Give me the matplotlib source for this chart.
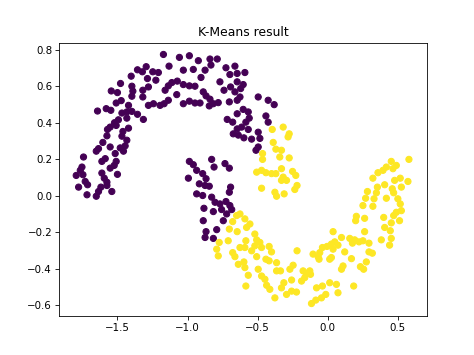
import numpy as np
import matplotlib
matplotlib.use('Agg')
import matplotlib.pyplot as plt

# cluster 0 (upper moon)
x0 = [-1.295, -1.357, -1.322, -1.402, -1.286, -1.478, -1.397, -1.390, -1.319, -1.279,
      -1.544, -1.500, -1.319, -1.397, -1.473, -1.509, -1.421, -1.580, -1.642, -1.547,
      -1.468, -1.433, -1.397, -1.357, -1.315, -1.493, -1.433, -1.521, -1.571, -1.552,
      -1.461, -1.421, -1.509, -1.279,
      -1.172, -1.058, -0.987, -0.923, -0.840, -0.788, -1.132, -0.833, -1.030, -0.959,
      -0.875, -0.726, -0.662, -1.248, -1.208, -0.698, -0.646, -0.904, -1.226, -1.112,
      -1.073, -1.137, -1.030, -0.987, -0.947, -1.160, -0.888, -0.769, -0.740, -0.693,
      -0.646, -0.662, -1.077, -0.868, -0.840, -0.816, -0.781, -1.137, -1.167, -1.243,
      -1.196, -1.030, -0.987, -0.947, -0.911, -0.702, -0.646, -0.845, -0.717, -0.678,
      -0.646, -0.646, -0.674,
      -0.591, -0.603, -0.621, -0.496, -0.425, -0.382, -0.626, -0.603, -0.567, -0.441,
      -0.425, -0.584, -0.560, -0.614, -0.567, -0.496,
      -1.575, -1.468, -1.433, -1.604, -1.445, -1.480, -1.552, -1.635, -1.651, -1.457,
      -1.587, -1.611, -1.516, -1.509, -1.742, -1.753, -1.765, -1.794, -1.746, -1.552,
      -1.523, -1.611, -1.500, -1.594, -1.730, -1.713, -1.575, -1.777, -1.618, -1.635,
      -1.540, -1.717, -1.651, -1.575,
      -0.987, -0.959, -0.828, -0.811, -0.733, -0.702, -0.935, -0.892, -0.994, -0.868,
      -0.916, -0.875, -0.845, -0.693, -0.935, -0.892, -0.702, -0.828, -0.804, -0.769,
      -0.726, -0.698, -0.883, -0.816, -0.757, -0.685, -0.721, -0.745, -0.888, -0.638,
      -0.598, -0.543, -0.484, -0.512, -0.496,
      -0.868, -0.792, -0.875, -0.816]
y0 = [0.706, 0.689, 0.678, 0.654, 0.641, 0.614, 0.599, 0.572, 0.577, 0.595,
      0.573, 0.564, 0.540, 0.544, 0.520, 0.507, 0.494, 0.476, 0.463, 0.467,
      0.452, 0.458, 0.461, 0.445, 0.417, 0.415, 0.424, 0.399, 0.362, 0.375,
      0.351, 0.369, 0.384, 0.494,
      0.773, 0.757, 0.766, 0.739, 0.748, 0.748, 0.709, 0.715, 0.687, 0.691,
      0.687, 0.700, 0.709, 0.678, 0.674, 0.663, 0.669, 0.647, 0.632, 0.619,
      0.627, 0.601, 0.608, 0.601, 0.599, 0.577, 0.568, 0.623, 0.577, 0.595,
      0.623, 0.568, 0.553, 0.546, 0.528, 0.503, 0.509, 0.522, 0.503, 0.503,
      0.494, 0.503, 0.517, 0.507, 0.507, 0.513, 0.522, 0.491, 0.417, 0.402,
      0.448, 0.365, 0.338,
      0.674, 0.608, 0.586, 0.540, 0.522, 0.498, 0.540, 0.472, 0.458, 0.436,
      0.402, 0.402, 0.424, 0.375, 0.362, 0.347,
      0.327, 0.325, 0.303, 0.291, 0.272, 0.261, 0.266, 0.257, 0.243, 0.243,
      0.202, 0.187, 0.230, 0.187, 0.211, 0.156, 0.138, 0.110, 0.114, 0.150,
      0.165, 0.123, 0.116, 0.095, 0.077, 0.059, 0.073, 0.046, 0.046, 0.022,
      0.022, 0.004, -0.004, 0.055,
      0.187, 0.169, 0.198, 0.156, 0.175, 0.150, 0.138, 0.120, 0.095, 0.092,
      0.064, 0.055, 0.051, 0.046, 0.009, 0.000, 0.018, -0.009, -0.037, -0.046,
      -0.033, -0.055, -0.070, -0.088, -0.077, -0.077, -0.101, -0.138, -0.138, 0.331,
      0.316, 0.309, 0.313, 0.248, 0.266,
      -0.198, -0.187, -0.230, -0.235]

# cluster 1 (lower moon)
x1 = [-0.396, -0.318, -0.275,
      -0.650, -0.678,
      -0.389, -0.283, -0.370, -0.330, -0.465, -0.465, -0.342, -0.275, -0.507, -0.472,
      -0.441, -0.401, -0.370, -0.330, -0.251, -0.228, -0.318, -0.330, -0.294, -0.219,
      -0.235, -0.472, -0.377, -0.365, -0.311, -0.626, -0.591, -0.555,
      0.579, 0.453, 0.489, 0.418, 0.465, 0.394, 0.358, 0.322, 0.477, 0.517,
      0.572, 0.406, 0.354, 0.460, 0.525, 0.283, 0.347, 0.470, 0.270, 0.330,
      0.418, 0.500, 0.517, 0.251, 0.322, 0.489, 0.525, 0.204, 0.263, 0.399,
      0.470, 0.199, 0.453, 0.512,
      -0.702, -0.646, -0.710, -0.774, -0.792, -0.781, -0.678, -0.662, -0.638,
      -0.579, -0.520, -0.584, -0.507, -0.484, -0.520, -0.472, -0.418, -0.401, -0.626,
      -0.591, -0.543, -0.507, -0.441, -0.418, -0.598, -0.591, -0.496, -0.365, -0.247,
      -0.219, -0.365, -0.337, -0.176, -0.152, -0.128, -0.270, -0.472, -0.448, -0.567,
      -0.258, -0.187, -0.164, -0.313, -0.330, -0.294, -0.258, -0.223, -0.413, -0.436,
      -0.584, -0.377, -0.080, -0.038, -0.116, -0.085, -0.045, -0.014, -0.105, -0.062,
      -0.057, -0.038, -0.005, -0.069, 0.014, -0.123,
      0.263, 0.406, 0.446, 0.453, 0.382, 0.441, 0.157, 0.192, 0.098, 0.050,
      0.026, 0.073, 0.251, 0.294, 0.176, 0.223, 0.038, 0.121, 0.294, 0.318,
      0.026, 0.169, 0.275, 0.109, 0.098, 0.233, 0.256, 0.014, 0.062, 0.185,
      0.073, 0.038]
y1 = [0.362, 0.375, 0.338,
      -0.110, -0.143,
      0.291, 0.321, 0.254, 0.248, 0.230, 0.198, 0.211, 0.206, 0.128, 0.138,
      0.125, 0.120, 0.120, 0.147, 0.132, 0.110, 0.101, 0.083, 0.083, 0.055,
      0.033, 0.040, 0.018, -0.004, 0.009, -0.101, -0.128, -0.156,
      0.198, 0.187, 0.165, 0.156, 0.147, 0.138, 0.125, 0.095, 0.083, 0.095,
      0.077, 0.059, 0.046, 0.037, 0.046, 0.022, 0.015, 0.015, -0.015, -0.018,
      -0.015, -0.018, -0.046, -0.055, -0.059, -0.092, -0.083, -0.114, -0.125, -0.120,
      -0.110, -0.138, -0.150, -0.138,
      -0.184, -0.198, -0.248, -0.257, -0.294, -0.331, -0.313, -0.335, -0.377,
      -0.175, -0.211, -0.248, -0.243, -0.257, -0.276, -0.285, -0.279, -0.309, -0.285,
      -0.285, -0.303, -0.335, -0.349, -0.358, -0.364, -0.395, -0.404, -0.368, -0.382,
      -0.303, -0.413, -0.413, -0.413, -0.426, -0.413, -0.404, -0.441, -0.459, -0.437,
      -0.463, -0.469, -0.450, -0.478, -0.506, -0.542, -0.524, -0.529, -0.514, -0.492,
      -0.496, -0.561, -0.506, -0.496, -0.592, -0.573, -0.561, -0.542, -0.321, -0.349,
      -0.313, -0.285, -0.279, -0.335, -0.349, -0.432,
      -0.198, -0.175, -0.193, -0.235, -0.243, -0.272, -0.235, -0.243, -0.230, -0.254,
      -0.266, -0.272, -0.248, -0.261, -0.261, -0.254, -0.294, -0.309, -0.309, -0.316,
      -0.340, -0.346, -0.364, -0.386, -0.404, -0.390, -0.404, -0.478, -0.487, -0.496,
      -0.533, -0.198]

X = np.column_stack([x0 + x1, y0 + y1])
labels = np.array([0] * len(x0) + [1] * len(x1))

fig = plt.figure(figsize=(474 / 74, 355 / 74), dpi=74)
plt.scatter(X[:, 0], X[:, 1], c=labels, cmap='viridis')
plt.title('K-Means result')
plt.xlim(-1.915, 0.705)
plt.ylim(-0.66, 0.838)
plt.savefig('out.png', dpi=74)
